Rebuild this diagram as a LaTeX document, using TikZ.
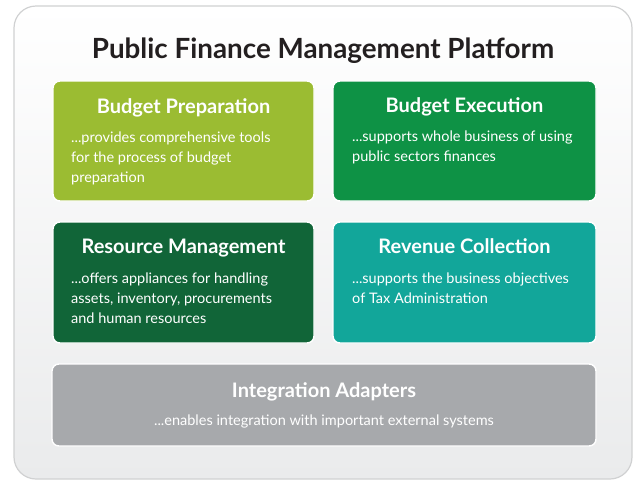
\documentclass[tikz,border=0pt]{standalone}
\usepackage{fontspec}
\setmainfont{Lato}
\definecolor{bpcol}{RGB}{155,188,50}
\definecolor{becol}{RGB}{14,146,69}
\definecolor{rmcol}{RGB}{17,101,56}
\definecolor{rccol}{RGB}{18,166,154}
\definecolor{iacol}{RGB}{167,169,172}
\definecolor{titlecol}{RGB}{35,31,32}
\definecolor{framecol}{RGB}{208,209,210}
\definecolor{framebot}{RGB}{234,235,236}
\tikzset{
  module/.style={draw=white, line width=1.4pt, rounded corners=7pt},
  modtitle/.style={anchor=base, text=white, inner sep=0pt, font=\fontsize{20}{22}\selectfont\bfseries},
  modbody/.style={anchor=base west, text=white, inner sep=0pt, align=left, font=\fontsize{14.5}{20}\selectfont},
}
\begin{document}
\begin{tikzpicture}[x=1pt,y=-1pt]
\useasboundingbox (0,0) rectangle (633,480);
\fill[white] (0,0) rectangle (633,480);
\shade[top color=white, bottom color=framebot, draw=framecol, line width=1.2pt, rounded corners=22pt] (14,6) rectangle (632,479);
\node[anchor=base, text=titlecol, inner sep=0pt, font=\fontsize{27.8}{30}\selectfont\bfseries] (title) at (323,58) {Public Finance Management Platform};

\filldraw[module, fill=bpcol] (53,81) rectangle (314,201);
\node[modtitle] (bpt) at (183.5,113) {Budget Preparation};
\node[modbody] (bpb) at (71,182) {...provides comprehensive tools\\for the process of budget\\preparation};

\filldraw[module, fill=becol] (333,81) rectangle (596,201);
\node[modtitle] (bet) at (464.5,112) {Budget Execution};
\node[modbody] (beb) at (352,161) {...supports whole business of using\\public sectors finances};

\filldraw[module, fill=rmcol] (53,222) rectangle (314,343);
\node[modtitle] (rmt) at (183.5,253) {Resource Management};
\node[modbody] (rmb) at (71,323) {...offers appliances for handling\\assets, inventory, procurements\\and human resources};

\filldraw[module, fill=rccol] (333,222) rectangle (596,343);
\node[modtitle] (rct) at (464.5,253) {Revenue Collection};
\node[modbody] (rcb) at (352,303) {...supports the business objectives\\of Tax Administration};

\filldraw[module, fill=iacol] (52,364) rectangle (596,446);
\node[modtitle] (iat) at (324,397) {Integration Adapters};
\node[modbody, anchor=base] (iab) at (324,425) {...enables integration with important external systems};
\end{tikzpicture}
\end{document}
